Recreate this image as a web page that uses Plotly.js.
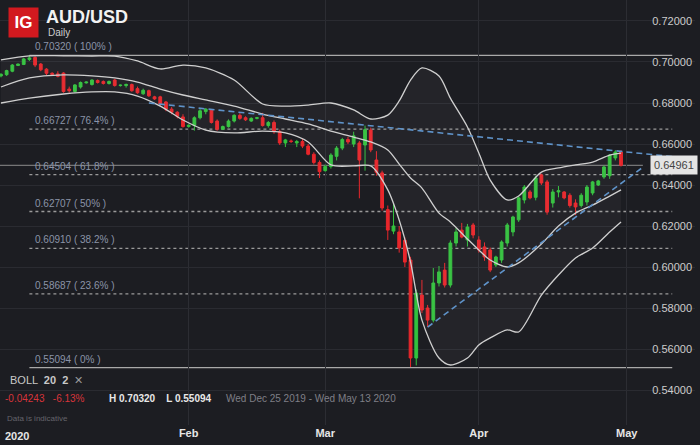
<!DOCTYPE html>
<html>
<head>
<meta charset="utf-8">
<script src="https://cdn.plot.ly/plotly-3.0.1.min.js"></script>
<style>
	html, body { margin: 0; padding: 0; background: #1c1d22; }
	#chart { width: 700px; height: 445px; }
</style>
</head>
<body>
<div id="chart"></div>
<script>
// daily candles (IG feed keeps a short Sunday candle)
const dates = [
	'2019-12-25','2019-12-26','2019-12-27','2019-12-29','2019-12-30','2019-12-31',
	'2020-01-01','2020-01-02','2020-01-03','2020-01-05','2020-01-06','2020-01-07','2020-01-08','2020-01-09','2020-01-10',
	'2020-01-12','2020-01-13','2020-01-14','2020-01-15','2020-01-16','2020-01-17','2020-01-19','2020-01-20','2020-01-21',
	'2020-01-22','2020-01-23','2020-01-24','2020-01-26','2020-01-27','2020-01-28','2020-01-29','2020-01-30','2020-01-31',
	'2020-02-02','2020-02-03','2020-02-04','2020-02-05','2020-02-06','2020-02-07','2020-02-09','2020-02-10','2020-02-11',
	'2020-02-12','2020-02-13','2020-02-14','2020-02-16','2020-02-17','2020-02-18','2020-02-19','2020-02-20','2020-02-21',
	'2020-02-23','2020-02-24','2020-02-25','2020-02-26','2020-02-27','2020-02-28',
	'2020-03-01','2020-03-02','2020-03-03','2020-03-04','2020-03-05','2020-03-06','2020-03-08','2020-03-09','2020-03-10',
	'2020-03-11','2020-03-12','2020-03-13','2020-03-15','2020-03-16','2020-03-17','2020-03-18','2020-03-19','2020-03-20',
	'2020-03-22','2020-03-23','2020-03-24','2020-03-25','2020-03-26','2020-03-27','2020-03-29','2020-03-30','2020-03-31',
	'2020-04-01','2020-04-02','2020-04-03','2020-04-05','2020-04-06','2020-04-07','2020-04-08','2020-04-09','2020-04-10',
	'2020-04-12','2020-04-13','2020-04-14','2020-04-15','2020-04-16','2020-04-17','2020-04-19','2020-04-20','2020-04-21',
	'2020-04-22','2020-04-23','2020-04-24','2020-04-26','2020-04-27','2020-04-28','2020-04-29','2020-04-30'
]
const open = [
	0.6932,0.6938,0.6955,0.6983,0.6988,0.7012,
	0.7022,0.6990,0.6965,0.6945,0.6942,0.6946,0.6868,0.6856,0.6878,
	0.6898,0.6890,0.6910,0.6905,0.6895,0.6912,0.6885,0.6885,0.6890,
	0.6870,0.6845,0.6860,0.6830,0.6830,0.6805,0.6770,0.6755,0.6732,
	0.6685,0.6690,0.6728,0.6758,0.6765,0.6712,0.6672,0.6685,0.6712,
	0.6740,0.6728,0.6712,0.6725,0.6728,0.6690,0.6705,0.6660,0.6605,
	0.6615,0.6605,0.6612,0.6590,0.6550,0.6510,
	0.6470,0.6490,0.6540,0.6580,0.6622,0.6600,0.6605,0.6595,0.6668,
	0.6522,0.6459,0.6280,0.6175,0.6171,0.6130,0.6034,0.5556,0.5863,
	0.5800,0.5741,0.5922,0.5985,0.5912,0.6117,0.6180,0.6132,0.6205,
	0.6132,0.6098,0.6083,0.6010,0.6034,0.6117,0.6171,0.6230,0.6327,
	0.6366,0.6340,0.6449,0.6415,0.6312,0.6366,0.6366,0.6350,0.6312,
	0.6300,0.6317,0.6361,0.6400,0.6439,0.6445,0.6532,0.6561
]
const high = [
	0.6945,0.6962,0.6990,0.6992,0.7020,0.7032,
	0.7028,0.6995,0.6970,0.6950,0.6955,0.6950,0.6880,0.6892,0.6905,
	0.6905,0.6915,0.6915,0.6910,0.6910,0.6918,0.6890,0.6895,0.6895,
	0.6880,0.6870,0.6865,0.6835,0.6835,0.6810,0.6780,0.6760,0.6745,
	0.6695,0.6735,0.6770,0.6775,0.6770,0.6720,0.6690,0.6720,0.6745,
	0.6750,0.6735,0.6730,0.6732,0.6752,0.6712,0.6715,0.6670,0.6625,
	0.6622,0.6620,0.6625,0.6600,0.6560,0.6520,
	0.6500,0.6555,0.6590,0.6630,0.6635,0.6660,0.6615,0.6690,0.6680,
	0.6565,0.6470,0.6300,0.6312,0.6200,0.6145,0.6050,0.5890,0.5937,
	0.5815,0.5995,0.6005,0.6020,0.6130,0.6190,0.6215,0.6210,0.6215,
	0.6150,0.6120,0.6095,0.6055,0.6130,0.6215,0.6250,0.6345,0.6400,
	0.6375,0.6445,0.6455,0.6425,0.6380,0.6395,0.6370,0.6360,0.6330,
	0.6360,0.6400,0.6420,0.6425,0.6495,0.6550,0.6570,0.6570
]
const low = [
	0.6925,0.6932,0.6950,0.6980,0.6985,0.7005,
	0.6975,0.6955,0.6935,0.6935,0.6925,0.6850,0.6850,0.6850,0.6870,
	0.6895,0.6885,0.6895,0.6890,0.6890,0.6880,0.6880,0.6875,0.6855,
	0.6845,0.6840,0.6830,0.6815,0.6785,0.6760,0.6745,0.6725,0.6680,
	0.6680,0.6665,0.6720,0.6745,0.6700,0.6665,0.6668,0.6680,0.6705,
	0.6718,0.6712,0.6708,0.6720,0.6685,0.6680,0.6650,0.6595,0.6585,
	0.6605,0.6585,0.6580,0.6545,0.6500,0.6434,
	0.6465,0.6480,0.6520,0.6570,0.6600,0.6585,0.6335,0.6470,0.6560,
	0.6445,0.6275,0.6132,0.6160,0.6070,0.6000,0.5512,0.5520,0.5775,
	0.5707,0.5730,0.5905,0.5900,0.5900,0.6100,0.6140,0.6100,0.6140,
	0.6070,0.6030,0.5975,0.6000,0.6020,0.6100,0.6150,0.6220,0.6310,
	0.6330,0.6325,0.6400,0.6255,0.6290,0.6340,0.6330,0.6290,0.6253,
	0.6290,0.6300,0.6350,0.6395,0.6430,0.6430,0.6520,0.6490
]
const close = [
	0.6940,0.6958,0.6985,0.6990,0.7015,0.7020,
	0.6985,0.6962,0.6945,0.6940,0.6930,0.6856,0.6860,0.6888,0.6900,
	0.6902,0.6912,0.6900,0.6895,0.6905,0.6885,0.6887,0.6890,0.6860,
	0.6850,0.6862,0.6835,0.6820,0.6795,0.6770,0.6755,0.6735,0.6685,
	0.6692,0.6728,0.6762,0.6770,0.6705,0.6672,0.6685,0.6712,0.6740,
	0.6725,0.6718,0.6725,0.6728,0.6690,0.6705,0.6660,0.6605,0.6620,
	0.6612,0.6612,0.6590,0.6550,0.6510,0.6465,
	0.6490,0.6546,0.6580,0.6622,0.6610,0.6640,0.6522,0.6670,0.6571,
	0.6462,0.6288,0.6180,0.6200,0.6093,0.6024,0.5556,0.5873,0.5790,
	0.5741,0.5922,0.5976,0.5912,0.6117,0.6171,0.6146,0.6195,0.6156,
	0.6083,0.6049,0.5985,0.6049,0.6122,0.6205,0.6244,0.6337,0.6390,
	0.6337,0.6434,0.6410,0.6268,0.6366,0.6372,0.6337,0.6300,0.6293,
	0.6350,0.6390,0.6415,0.6420,0.6488,0.6546,0.6561,0.6496
]

// BOLL 20 2 at a few dates
const bollDates = [
	'2019-12-25','2019-12-31','2020-01-07','2020-01-13','2020-01-17','2020-01-22','2020-01-27','2020-01-31',
	'2020-02-05','2020-02-11','2020-02-17','2020-02-21','2020-02-26','2020-03-02','2020-03-06','2020-03-10',
	'2020-03-13','2020-03-16','2020-03-18','2020-03-20','2020-03-24','2020-03-26','2020-03-30','2020-04-01',
	'2020-04-03','2020-04-07','2020-04-09','2020-04-14','2020-04-17','2020-04-21','2020-04-24','2020-04-28','2020-04-30'
]
const bollUpper = [
	0.7010,0.7030,0.7030,0.7029,0.7029,0.7005,0.6966,0.6985,
	0.6971,0.6912,0.6795,0.6785,0.6790,0.6800,0.6766,0.6722,
	0.6741,0.6810,0.6912,0.6971,0.6932,0.6824,0.6683,0.6556,
	0.6424,0.6327,0.6346,0.6463,0.6483,0.6498,0.6512,0.6546,0.6556
]
const bollMid = [
	0.6878,0.6922,0.6937,0.6932,0.6922,0.6902,0.6868,0.6839,
	0.6815,0.6785,0.6746,0.6722,0.6698,0.6663,0.6634,0.6610,
	0.6571,0.6502,0.6434,0.6385,0.6263,0.6220,0.6137,0.6083,
	0.6034,0.6000,0.6020,0.6112,0.6200,0.6263,0.6302,0.6346,0.6376
]
const bollLower = [
	0.6800,0.6824,0.6844,0.6854,0.6854,0.6834,0.6785,0.6717,
	0.6668,0.6654,0.6663,0.6654,0.6610,0.6498,0.6493,0.6493,
	0.6376,0.6229,0.6024,0.5741,0.5556,0.5522,0.5556,0.5620,
	0.5654,0.5693,0.5683,0.5863,0.5961,0.6044,0.6093,0.6171,0.6220
]

// fibonacci retracement of the Dec 31 high / Mar 18 low
const fibLevels = [0.70320, 0.66727, 0.64504, 0.62707, 0.60910, 0.58687, 0.55094]
const fibNames = ['100%', '76.4%', '61.8%', '50%', '38.2%', '23.6%', '0%']

// trend lines
const resistX = ['2020-01-24', '2020-05-15']
const resistY = [0.6800, 0.6527]
const supportX = ['2020-03-22', '2020-05-05']
const supportY = [0.5707, 0.6490]

const yTicks = [0.54, 0.56, 0.58, 0.60, 0.62, 0.64, 0.66, 0.68, 0.70, 0.72]
const monthTicks = ['2020-02-02', '2020-03-01', '2020-04-01', '2020-05-01']
const monthText = ['Feb', 'Mar', 'Apr', 'May']
const lastPrice = 0.64961

const FONT = 'Liberation Sans, Arial, sans-serif'
const BG = '#1c1d22'

const bandLine = { color: '#cfcfcf', width: 1.3, shape: 'spline', smoothing: 0.8 }

const traces = [
	{ x: bollDates, y: bollUpper, type: 'scatter', mode: 'lines', line: bandLine, hoverinfo: 'skip' },
	{ x: bollDates, y: bollLower, type: 'scatter', mode: 'lines', line: bandLine, hoverinfo: 'skip',
		fill: 'tonexty', fillcolor: 'rgba(255,255,255,0.035)' },
	{ x: bollDates, y: bollMid, type: 'scatter', mode: 'lines', line: bandLine, hoverinfo: 'skip' },
	{ x: resistX, y: resistY, type: 'scatter', mode: 'lines', line: { color: '#5f93c9', width: 1.6, dash: '6px,4px' } },
	{ x: supportX, y: supportY, type: 'scatter', mode: 'lines', line: { color: '#5f93c9', width: 1.6, dash: '6px,4px' } },
	{
		x: dates, open: open, high: high, low: low, close: close,
		type: 'candlestick',
		increasing: { line: { color: '#33c13e', width: 1 }, fillcolor: '#33c13e' },
		decreasing: { line: { color: '#e8262b', width: 1 }, fillcolor: '#e8262b' },
		whiskerwidth: 0
	}
]

const shapes = []
const annotations = []

fibLevels.forEach((lv, i) => {
	const solid = i === 0 || i === fibLevels.length - 1
	shapes.push({
		type: 'line', xref: 'x', yref: 'y', x0: '2019-12-31', x1: '2020-05-11', y0: lv, y1: lv,
		line: { color: solid ? '#a9a9a9' : '#9a9a9a', width: solid ? 1.2 : 1.3, dash: solid ? 'solid' : '3px,3px' },
		layer: 'below'
	})
	annotations.push({
		xref: 'x', yref: 'y', x: '2019-12-31', y: lv, xanchor: 'left', yanchor: 'bottom',
		xshift: 4, yshift: 1, showarrow: false,
		text: lv.toFixed(5) + ' ( ' + fibNames[i] + ' )',
		font: { family: FONT, size: 10, color: '#8b94a8' }
	})
})

// current price line and tag
shapes.push({
	type: 'line', xref: 'paper', yref: 'y', x0: 0, x1: 0.925, y0: lastPrice, y1: lastPrice,
	line: { color: '#8c8c8c', width: 1 }, layer: 'below'
})
annotations.push({
	xref: 'paper', yref: 'y', x: 1, y: lastPrice, xanchor: 'right', yanchor: 'middle', xshift: 3,
	showarrow: false, text: lastPrice.toFixed(5), bgcolor: '#e4e4e4', borderpad: 3,
	font: { family: FONT, size: 11, color: '#444' }
})

// header and footer texts, placed in px from the top-left of the plot area
const PW = 695, PH = 425
function label(text, px, py, size, color, extra) {
	return Object.assign({
		xref: 'paper', yref: 'paper', x: px / PW, y: 1 - py / PH,
		xanchor: 'left', yanchor: 'middle', showarrow: false, text: text,
		font: { family: FONT, size: size, color: color }
	}, extra || {})
}

annotations.push(
	label('<b>IG</b>', 8, 22.5, 17, '#ffffff', { width: 29, height: 29, bgcolor: '#d2191f', align: 'center', valign: 'middle', borderpad: 0 }),
	label('<b>AUD/USD</b>', 44, 17, 18, '#f2f2f2'),
	label('Daily', 46, 33, 10, '#cfcfcf'),
	label('BOLL  <b>20  2</b>  <span style="color:#9a9a9a">✕</span>', 8, 380, 11, '#c8c8c8'),
	label('-0.04243   -6.13%', 3, 398, 10, '#d8343a'),
	label('<b>H 0.70320    L 0.55094</b>', 107, 398, 10, '#e8e8e8'),
	label('Wed Dec 25 2019 - Wed May 13 2020', 224, 398, 10, '#7f7f86'),
	label('Data is indicative', 5, 418, 8, '#64646b'),
	label('<b>2020</b>', 3, 436, 11, '#e6e6e6')
)

const layout = {
	width: 700,
	height: 445,
	margin: { l: 0, r: 5, t: 0, b: 20 },
	paper_bgcolor: BG,
	plot_bgcolor: BG,
	showlegend: false,
	font: { family: FONT, color: '#cfcfcf' },
	xaxis: {
		type: 'date',
		range: ['2019-12-24 20:00', '2020-05-15'],
		rangebreaks: [{ bounds: ['sat', 'sun'] }],
		rangeslider: { visible: false },
		tickvals: monthTicks,
		ticktext: monthText,
		tickfont: { family: FONT, size: 11, color: '#e6e6e6', weight: 'bold' },
		ticks: '',
		showgrid: true,
		gridcolor: '#2c2d33',
		zeroline: false,
		showline: false
	},
	yaxis: {
		side: 'right',
		range: [0.52293, 0.73024],
		tickvals: yTicks,
		tickformat: '.5f',
		ticklabelposition: 'inside',
		tickfont: { family: FONT, size: 11, color: '#cccccc' },
		ticks: '',
		showgrid: true,
		gridcolor: '#2a2b31',
		zeroline: false,
		showline: false
	},
	shapes: shapes,
	annotations: annotations
}

Plotly.newPlot('chart', traces, layout, { displayModeBar: false, staticPlot: true })
</script>
</body>
</html>
